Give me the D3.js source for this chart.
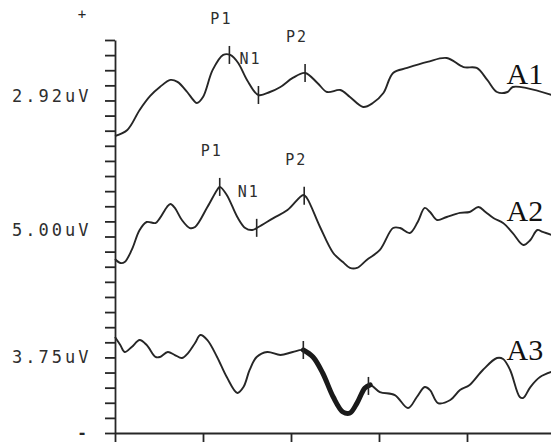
<!DOCTYPE html>
<html>
<head>
<meta charset="utf-8">
<script src="https://cdn.jsdelivr.net/npm/d3@7"></script>
<style>
  body { margin: 0; background: #fff; }
  svg { display: block; }
</style>
</head>
<body>
<div id="wrapper"></div>
<script>
// time in ms, amplitude in axis divisions (counted up from the bottom line)
const a1Time = [0,14,28,40,51,63,71,82,89,93,100,111,123,131,140,150,163,176,188,202,216,230,241,256,267,282,293,305,316,332,355,377,396,411,423,434,446,452,468,496];
const a1Amp = [19.65,20.05,21.37,22.30,22.89,23.36,23.23,22.56,22.03,21.83,22.23,24.02,25.01,25.01,24.48,23.36,22.36,22.56,22.89,23.49,23.82,23.16,22.56,22.69,22.23,21.57,21.83,22.49,23.82,24.15,24.55,24.81,24.21,24.15,23.36,22.56,22.56,22.89,22.82,22.36];

const a2Time = [0,6,11,19,28,36,46,51,59,63,68,76,85,91,105,116,119,127,139,148,156,163,180,196,214,218,233,248,259,267,275,286,301,316,324,335,344,352,358,366,377,392,403,413,421,430,441,452,464,472,480,486,496];
const a2Amp = [11.51,11.25,11.31,12.11,13.43,13.96,13.89,14.22,14.95,15.15,14.89,14.09,13.56,13.63,14.95,16.08,16.28,15.75,14.29,13.56,13.43,13.63,14.22,14.75,15.75,15.55,13.63,11.91,11.31,10.92,10.92,11.45,12.11,13.56,13.56,13.23,13.96,14.89,14.62,14.09,14.29,14.56,14.62,14.95,14.62,14.22,13.89,13.23,12.44,12.77,13.43,13.30,13.10];

const a3Time = [0,6,11,19,28,36,46,51,60,68,76,83,91,97,105,116,127,139,146,153,161,173,188,202,214,225,236,248,259,267,275,284,290,301,318,333,343,352,358,367,381,392,403,418,434,441,449,460,464,472,483,496];
const a3Amp = [6.35,5.82,5.36,5.69,6.15,5.82,5.03,5.03,5.36,5.16,4.96,5.29,5.95,6.48,6.15,5.03,3.70,2.65,3.04,4.17,5.03,5.36,5.16,5.36,5.49,5.03,3.97,2.38,1.39,1.32,1.98,2.98,3.18,2.71,2.51,1.65,2.38,3.04,2.84,1.98,2.18,2.84,3.18,4.17,4.96,4.90,4.17,2.38,2.32,3.04,3.70,4.04];

const traceNames = ["A1", "A2", "A3"];
const gainLabels = ["2.92uV", "5.00uV", "3.75uV"];
const gainLevels = [22.3, 13.43, 5.03];

const peakNames = ["P1", "N1", "P2"];
const a1PeakTimes = [130, 163, 216];
const a2PeakTimes = [119, 161, 215];
const a3MarkTimes = [214, 288];

const xTicks = [0, 100, 200, 300, 400, 500];
const yDivisions = d3.range(0, 27);

const width = 551;
const height = 442;
const ink = "#262626";

const svg = d3.select("#wrapper")
    .append("svg")
    .attr("width", width)
    .attr("height", height);

svg.append("rect").attr("width", width).attr("height", height).attr("fill", "#fff");

const xScale = d3.scaleLinear().domain([0, 500]).range([115, 555]);
const yScale = d3.scaleLinear().domain([0, 26]).range([433, 40]);

// axes
const yAxis = svg.append("g")
    .attr("transform", `translate(${xScale(0)},0)`)
    .call(d3.axisLeft(yScale).tickValues(yDivisions).tickSize(10).tickSizeOuter(0).tickFormat(""));
const xAxis = svg.append("g")
    .attr("transform", `translate(0,${yScale(0)})`)
    .call(d3.axisBottom(xScale).tickValues(xTicks).tickSize(9).tickSizeOuter(0).tickFormat(""));
svg.selectAll(".domain, .tick line")
    .attr("stroke", ink)
    .attr("stroke-width", 1.8);

// polarity marks
const monoFont = "'DejaVu Sans Mono', monospace";
svg.append("text")
    .attr("x", 82).attr("y", yScale(26) - 21)
    .attr("text-anchor", "middle")
    .attr("font-family", monoFont).attr("font-size", "14px")
    .attr("fill", ink)
    .text("+");
svg.append("text")
    .attr("x", 82).attr("y", yScale(0) + 5)
    .attr("text-anchor", "middle")
    .attr("font-family", monoFont).attr("font-size", "16px").attr("font-weight", "bold")
    .attr("fill", ink)
    .text("-");

// gain labels
svg.selectAll(".gain")
    .data(gainLabels)
    .enter()
    .append("text")
    .attr("class", "gain")
    .attr("x", 12)
    .attr("y", (d, i) => yScale(gainLevels[i]))
    .attr("dy", "0.36em")
    .attr("font-family", monoFont)
    .attr("font-size", "17px")
    .attr("letter-spacing", "3px")
    .attr("fill", "#2e2e2e")
    .text(d => d);

const traces = [
    { time: a1Time, amp: a1Amp },
    { time: a2Time, amp: a2Amp },
    { time: a3Time, amp: a3Amp },
];

const line = d3.line()
    .x(d => xScale(d[0]))
    .y(d => yScale(d[1]))
    .curve(d3.curveCatmullRom.alpha(0.5));

traces.forEach((tr, i) => {
    const pts = tr.time.map((t, j) => [t, tr.amp[j]]);
    tr.at = d3.scaleLinear().domain(tr.time).range(tr.amp);
    svg.append("path")
        .datum(pts)
        .attr("d", line)
        .attr("fill", "none")
        .attr("stroke", ink)
        .attr("stroke-width", 1.9)
        .attr("stroke-linejoin", "round");

    // trace name
    svg.append("text")
        .attr("x", xScale(445))
        .attr("y", yScale(tr.at(447)) - 7)
        .attr("font-family", "'Liberation Serif', 'Times New Roman', serif")
        .attr("font-size", "30px")
        .attr("fill", "#111")
        .text(traceNames[i]);
});

// thick highlighted segment on A3
const a3Pts = a3Time.map((t, j) => [t, a3Amp[j]]).filter(d => d[0] >= a3MarkTimes[0] && d[0] <= a3MarkTimes[1] + 2);
svg.append("path")
    .datum(a3Pts)
    .attr("d", line)
    .attr("fill", "none")
    .attr("stroke", "#1a1a1a")
    .attr("stroke-width", 5)
    .attr("stroke-linecap", "round")
    .attr("stroke-linejoin", "round");

// latency marks
function drawMarks(tr, times, names) {
    times.forEach((t, k) => {
        const cx = xScale(t);
        const cy = yScale(tr.at(t));
        svg.append("line")
            .attr("x1", cx).attr("x2", cx)
            .attr("y1", cy - 9).attr("y2", cy + 9)
            .attr("stroke", ink)
            .attr("stroke-width", 1.6);
        if (names) {
            svg.append("text")
                .attr("x", cx - 8)
                .attr("y", cy - 31)
                .attr("text-anchor", "middle")
                .attr("font-family", monoFont)
                .attr("font-size", "15px")
                .attr("letter-spacing", "2px")
                .attr("fill", "#2e2e2e")
                .text(names[k]);
        }
    });
}
drawMarks(traces[0], a1PeakTimes, peakNames);
drawMarks(traces[1], a2PeakTimes, peakNames);
drawMarks(traces[2], a3MarkTimes, null);
</script>
</body>
</html>
